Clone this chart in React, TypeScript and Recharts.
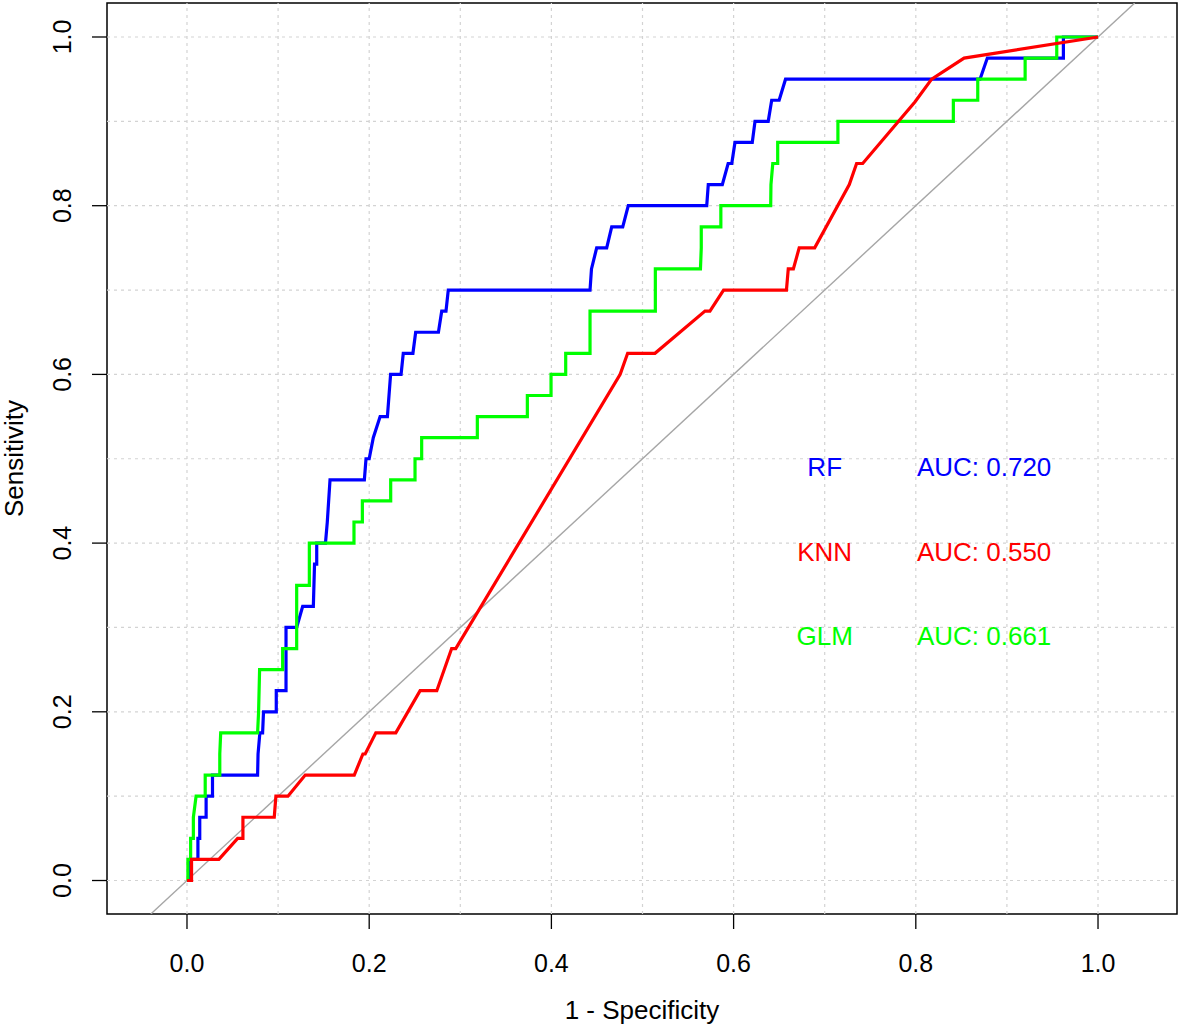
import { LineChart, Line, XAxis, YAxis, ReferenceLine, ReferenceArea, ReferenceDot } from 'recharts'

// ROC curves, 1 - specificity on x, sensitivity on y
const RF_X = [0, 0.004, 0.004, 0.012, 0.012, 0.014, 0.014, 0.021, 0.021, 0.028, 0.028, 0.0775, 0.078, 0.08, 0.083, 0.084, 0.098, 0.098, 0.1087, 0.1087, 0.1204, 0.127, 0.1387, 0.14, 0.1424, 0.1424, 0.152, 0.154, 0.157, 0.1947, 0.1965, 0.2, 0.2045, 0.212, 0.22, 0.2235, 0.235, 0.2374, 0.248, 0.251, 0.276, 0.2796, 0.2843, 0.2868, 0.4424, 0.444, 0.4497, 0.4607, 0.4662, 0.4783, 0.4844, 0.5705, 0.5722, 0.5876, 0.594, 0.598, 0.6015, 0.6205, 0.6235, 0.638, 0.6418, 0.65, 0.657, 0.8705, 0.8785, 0.962, 0.962, 1]
const RF_Y = [0, 0, 0.025, 0.025, 0.05, 0.05, 0.075, 0.075, 0.1, 0.1, 0.125, 0.125, 0.15, 0.175, 0.175, 0.2, 0.2, 0.225, 0.225, 0.3, 0.3, 0.325, 0.325, 0.375, 0.375, 0.4, 0.4, 0.425, 0.475, 0.475, 0.5, 0.5, 0.525, 0.55, 0.55, 0.6, 0.6, 0.625, 0.625, 0.65, 0.65, 0.675, 0.675, 0.7, 0.7, 0.725, 0.75, 0.75, 0.775, 0.775, 0.8, 0.8, 0.825, 0.825, 0.85, 0.85, 0.875, 0.875, 0.9, 0.9, 0.925, 0.925, 0.95, 0.95, 0.975, 0.975, 1, 1]

const KNN_X = [0, 0.005, 0.005, 0.035, 0.0556, 0.0614, 0.0614, 0.0958, 0.0976, 0.1108, 0.1298, 0.1836, 0.1931, 0.1956, 0.2073, 0.2292, 0.2559, 0.2742, 0.2905, 0.295, 0.4755, 0.4837, 0.5137, 0.5686, 0.574, 0.589, 0.658, 0.66, 0.6656, 0.672, 0.689, 0.727, 0.735, 0.7417, 0.799, 0.8174, 0.853, 1]
const KNN_Y = [0, 0, 0.025, 0.025, 0.05, 0.05, 0.075, 0.075, 0.1, 0.1, 0.125, 0.125, 0.15, 0.15, 0.175, 0.175, 0.225, 0.225, 0.275, 0.275, 0.6, 0.625, 0.625, 0.675, 0.675, 0.7, 0.7, 0.725, 0.725, 0.75, 0.75, 0.825, 0.85, 0.85, 0.923, 0.95, 0.975, 1]

const GLM_X = [0, 0.001, 0.001, 0.004, 0.004, 0.007, 0.007, 0.01, 0.02, 0.02, 0.036, 0.036, 0.037, 0.0775, 0.0786, 0.0797, 0.105, 0.105, 0.1204, 0.1204, 0.1343, 0.1343, 0.1833, 0.1833, 0.1925, 0.1925, 0.2236, 0.2236, 0.2503, 0.2503, 0.2576, 0.2576, 0.3187, 0.3187, 0.3736, 0.3736, 0.3996, 0.3996, 0.4157, 0.4157, 0.4424, 0.4424, 0.5141, 0.5141, 0.5636, 0.5645, 0.5645, 0.586, 0.586, 0.6407, 0.641, 0.643, 0.6484, 0.6484, 0.7145, 0.7145, 0.8412, 0.8412, 0.868, 0.868, 0.92, 0.92, 0.9547, 0.9547, 1]
const GLM_Y = [0, 0, 0.025, 0.025, 0.05, 0.05, 0.075, 0.1, 0.1, 0.125, 0.125, 0.15, 0.175, 0.175, 0.2, 0.25, 0.25, 0.275, 0.275, 0.35, 0.35, 0.4, 0.4, 0.425, 0.425, 0.45, 0.45, 0.475, 0.475, 0.5, 0.5, 0.525, 0.525, 0.55, 0.55, 0.575, 0.575, 0.6, 0.6, 0.625, 0.625, 0.675, 0.675, 0.725, 0.725, 0.75, 0.775, 0.775, 0.8, 0.8, 0.825, 0.85, 0.85, 0.875, 0.875, 0.9, 0.9, 0.925, 0.925, 0.95, 0.95, 0.975, 0.975, 1, 1]

const MODELS = ['RF', 'KNN', 'GLM']
const AUCS = ['0.720', '0.550', '0.661']
const COLORS = ['#0000ff', '#ff0000', '#00ff00']
const LABEL_Y = [0.49, 0.39, 0.29]
const NAME_X = 0.7
const AUC_X = 0.875

const TICKS = [0, 0.2, 0.4, 0.6, 0.8, 1]
const GRID = [0, 0.1, 0.2, 0.3, 0.4, 0.5, 0.6, 0.7, 0.8, 0.9, 1]

const X_MIN = -0.0878
const X_MAX = 1.0867
const Y_MIN = -0.0397
const Y_MAX = 1.0403

const zip = (xs: number[], ys: number[]) => xs.map((x, i) => ({ x, y: ys[i] }))
const rf = zip(RF_X, RF_Y)
const knn = zip(KNN_X, KNN_Y)
const glm = zip(GLM_X, GLM_Y)
const diag = [{ x: Y_MIN, y: Y_MIN }, { x: Y_MAX, y: Y_MAX }]

const FONT = '"Liberation Sans", Arial, sans-serif'

const XTick = ({ x, y, payload }: any) => (
  <text x={x} y={y + 41} textAnchor="middle" fontSize={25} fontFamily={FONT} fill="#000">
    {payload.value.toFixed(1)}
  </text>
)

const YTick = ({ x, y, payload }: any) => (
  <text transform={`translate(${x - 19},${y}) rotate(-90)`} textAnchor="middle" fontSize={25} fontFamily={FONT} fill="#000">
    {payload.value.toFixed(1)}
  </text>
)

export default function App() {
  return (
    <div style={{ position: 'absolute', left: 0, top: 0, background: '#fff' }}>
      <LineChart width={1181} height={1027} margin={{ top: 3, right: 4, left: 0, bottom: 0 }}>
        <XAxis
          type="number"
          dataKey="x"
          domain={[X_MIN, X_MAX]}
          ticks={TICKS}
          allowDataOverflow
          height={113}
          axisLine={false}
          tickSize={15}
          tickLine={{ stroke: '#000', strokeWidth: 1.3 }}
          tick={<XTick />}
          label={{
            content: ({ viewBox }: any) => (
              <text x={viewBox.x + viewBox.width / 2} y={viewBox.y + 105} textAnchor="middle" fontSize={26} fontFamily={FONT} fill="#000">
                1 - Specificity
              </text>
            ),
          }}
        />
        <YAxis
          type="number"
          dataKey="y"
          domain={[Y_MIN, Y_MAX]}
          ticks={TICKS}
          allowDataOverflow
          width={107}
          axisLine={false}
          tickSize={15}
          tickLine={{ stroke: '#000', strokeWidth: 1.3 }}
          tick={<YTick />}
          label={{
            content: ({ viewBox }: any) => (
              <text transform={`translate(23,${viewBox.y + viewBox.height / 2}) rotate(-90)`} textAnchor="middle" fontSize={26} fontFamily={FONT} fill="#000">
                Sensitivity
              </text>
            ),
          }}
        />
        {GRID.map(v => (
          <ReferenceLine key={'gx' + v} x={v} stroke="#d3d3d3" strokeWidth={1.2} strokeDasharray="3 4" />
        ))}
        {GRID.map(v => (
          <ReferenceLine key={'gy' + v} y={v} stroke="#d3d3d3" strokeWidth={1.2} strokeDasharray="3 4" />
        ))}
        <Line data={diag} dataKey="y" stroke="#a6a6a6" strokeWidth={1.4} dot={false} isAnimationActive={false} />
        <Line data={rf} dataKey="y" stroke={COLORS[0]} strokeWidth={3.2} dot={false} isAnimationActive={false} />
        <Line data={glm} dataKey="y" stroke={COLORS[2]} strokeWidth={3.2} dot={false} isAnimationActive={false} />
        <Line data={knn} dataKey="y" stroke={COLORS[1]} strokeWidth={3.2} dot={false} isAnimationActive={false} />
        {MODELS.map((m, i) => (
          <ReferenceDot
            key={'n' + m}
            x={NAME_X}
            y={LABEL_Y[i]}
            r={0}
            shape={(p: any) => (
              <text x={p.cx} y={p.cy + 9} textAnchor="middle" fontSize={26} fontFamily={FONT} fill={COLORS[i]}>
                {m}
              </text>
            )}
          />
        ))}
        {MODELS.map((m, i) => (
          <ReferenceDot
            key={'a' + m}
            x={AUC_X}
            y={LABEL_Y[i]}
            r={0}
            shape={(p: any) => (
              <text x={p.cx} y={p.cy + 9} textAnchor="middle" fontSize={26} fontFamily={FONT} fill={COLORS[i]}>
                {'AUC: ' + AUCS[i]}
              </text>
            )}
          />
        ))}
        <ReferenceArea x1={X_MIN} x2={X_MAX} y1={Y_MIN} y2={Y_MAX} fill="none" stroke="#000" strokeWidth={1.5} ifOverflow="visible" />
      </LineChart>
    </div>
  )
}
